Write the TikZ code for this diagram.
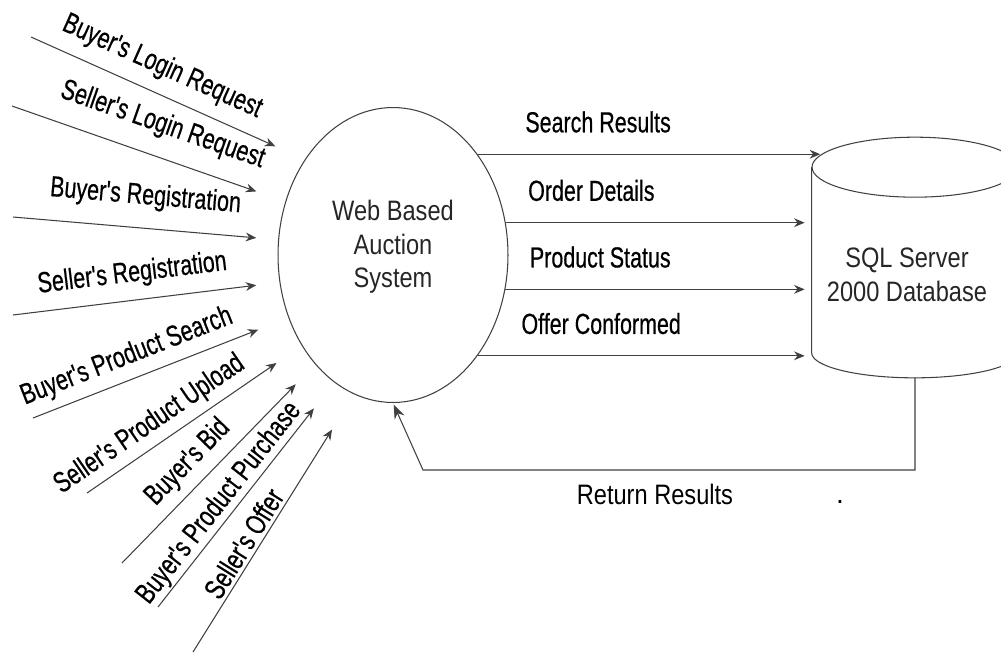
\documentclass[tikz,border=0pt]{standalone}
\usepackage{graphicx}
\usepackage{fontspec}
\setmainfont{Liberation Sans}
\newfontfamily\lblfont[FakeBold=0.6]{Liberation Sans}
\newcommand\nar[1]{\scalebox{0.74}[1]{#1}} % narrow label text
\newcommand\wid[1]{\scalebox{0.84}[1]{#1}} % text in the shapes
\usetikzlibrary{arrows.meta,shapes.geometric,positioning,calc}

\begin{document}
\begin{tikzpicture}[
	x = 0.02cm, y = -0.02cm, % one unit = one pixel, y runs down
	> = {Stealth[length=6pt, width=5pt]}, % arrow head style
	shorten > = 1pt, % don't touch arrow head to node
	flow/.style={->, draw=black!75, line width=0.6pt},
	lbl/.style={font=\lblfont\fontsize{16.5}{18}\selectfont, inner sep=0pt},
	ret/.style={font=\fontsize{16}{18}\selectfont, inner sep=0pt},
	sys/.style={ellipse, draw=black!75, line width=0.6pt, minimum width=4.6cm, minimum height=5.9cm, inner sep=0pt},
	body/.style={rectangle, minimum width=4.12cm, minimum height=3.7cm, inner sep=0pt},
	boxtxt/.style={font=\fontsize{16}{19}\selectfont, align=center, text=black!85},
	]
	\useasboundingbox (0,0) rectangle (1001,654);
	\clip (0,0) rectangle (1001,654);

	% Nodes
	\node[sys] (sys) at (393,255) {};
	\node[boxtxt] (systxt) at (393,247) {\wid{Web Based}\\\wid{Auction}\\\wid{System}};
	\node[body] (db) at (915,260) {};
	\node[boxtxt] (dbtxt) at (907,275) {\wid{SQL Server}\\\wid{2000 Database}};

	% database cylinder
	\draw[draw=black!75, line width=0.6pt] (db.north west) -- (db.south west)
		arc[start angle=180, end angle=360, x radius=2.06cm, y radius=0.5cm] -- (db.north east);
	\draw[draw=black!75, line width=0.6pt] (db.north) ellipse [x radius=2.06cm, y radius=0.6cm];

	% free ends of the incoming flows
	\coordinate (BLa) at (31,37);   \coordinate (BLb) at (277,147);
	\coordinate (SLa) at (12,106);  \coordinate (SLb) at (258,192);
	\coordinate (BRa) at (13,217);  \coordinate (BRb) at (258,238);
	\coordinate (SRa) at (13,315);  \coordinate (SRb) at (258,285);
	\coordinate (BSa) at (33,418);  \coordinate (BSb) at (260,329);
	\coordinate (SUa) at (87,493);  \coordinate (SUb) at (278,362);
	\coordinate (BBa) at (122,563); \coordinate (BBb) at (297,383);
	\coordinate (BPa) at (158,607); \coordinate (BPb) at (315,407);
	\coordinate (SOa) at (193,652); \coordinate (SOb) at (333,428);
	\coordinate (ret) at (423,470);

	% Paths into the system
	\path (BLa) edge[flow] node[lbl, sloped, above=7pt,  pos=.49]{\nar{Buyer's Login Request}}   (BLb);
	\path (SLa) edge[flow] node[lbl, sloped, above=10pt, pos=.57]{\nar{Seller's Login Request}}  (SLb);
	\path (BRa) edge[flow] node[lbl, sloped, above=10pt, pos=.53]{\nar{Buyer's Registration}}    (BRb);
	\path (SRa) edge[flow] node[lbl, sloped, above=7pt,  pos=.50]{\nar{Seller's Registration}}   (SRb);
	\path (BSa) edge[flow] node[lbl, sloped, above=5pt,  pos=.45]{\nar{Buyer's Product Search}}  (BSb);
	\path (SUa) edge[flow] node[lbl, sloped, above=4pt,  pos=.39]{\nar{Seller's Product Upload}} (SUb);
	\path (BBa) edge[flow] node[lbl, sloped, above=5pt,  pos=.47]{\nar{Buyer's Bid}}             (BBb);
	\path (BPa) edge[flow] node[lbl, sloped, above=1pt,  pos=.47]{\nar{Buyer's Product Purchase}}(BPb);
	\path (SOa) edge[flow] node[lbl, sloped, above=2pt,  pos=.45]{\nar{Seller's Offer}}          (SOb);

	% Paths into the database
	\path (sys.50)  edge[flow] node[lbl, above=12pt, pos=.35]{\nar{Search Results}} ($(sys.50 -| db.north)+(-93,0)$);
	\path (sys.16)  edge[flow, shorten >=4pt] node[lbl, above=12pt, pos=.28]{\nar{Order Details}}   (sys.16 -| db.west);
	\path (sys.343) edge[flow, shorten >=4pt] node[lbl, above=12pt, pos=.31]{\nar{Product Status}}  (sys.343 -| db.west);
	\path (sys.310) edge[flow, shorten >=4pt] node[lbl, above=12pt, pos=.37]{\nar{Offer Conformed}} (sys.310 -| db.west);

	% Results back to the system
	\draw[flow, -{Stealth[length=8pt, width=6pt]}] ([yshift=-0.5cm]db.south) |- (ret)
		node[ret, below=8pt, pos=.75, xshift=-8]{\wid{Return Results}} -- (sys.south);
	\node[ret, anchor=base] (dot) at (840,503) {.};

\end{tikzpicture}
\end{document}
